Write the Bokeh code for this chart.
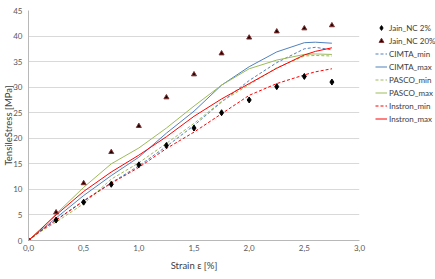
from bokeh.plotting import figure
from bokeh.layouts import row
from bokeh.models import Legend, LegendItem, FixedTicker, Range1d, CustomJSTickFormatter
from bokeh.embed import file_html
from bokeh.resources import INLINE

# Jain_NC reference points
strain_pts = [0.0, 0.25, 0.5, 0.75, 1.0, 1.25, 1.5, 1.75, 2.0, 2.25, 2.5, 2.75]
jain_2 = [0.0, 4.0, 7.5, 11.0, 14.8, 18.6, 22.0, 25.0, 27.5, 30.1, 32.1, 31.0]
jain_20 = [0.0, 5.5, 11.2, 17.3, 22.4, 28.0, 32.5, 36.6, 39.7, 40.9, 41.5, 42.1]

# measured curves
strain_curve = [0.0, 0.1, 0.25, 0.5, 0.75, 1.0, 1.25, 1.5, 1.75, 2.0, 2.25, 2.5, 2.6, 2.75]
cimta_min = [0.0, 1.7, 4.0, 7.8, 11.3, 14.6, 18.4, 22.5, 27.1, 31.3, 34.8, 37.5, 37.8, 37.3]
cimta_max = [0.0, 1.8, 4.4, 8.8, 12.7, 16.3, 21.0, 25.3, 30.4, 34.0, 36.9, 38.7, 38.8, 38.6]
pasco_min = [0.0, 1.6, 3.6, 7.2, 12.0, 15.2, 19.0, 22.9, 27.2, 30.5, 33.8, 36.1, 36.2, 36.1]
pasco_max = [0.0, 2.0, 5.2, 10.4, 15.0, 18.1, 22.0, 26.3, 30.4, 33.6, 35.3, 36.4, 36.5, 36.4]
instron_min = [0.0, 1.7, 4.0, 7.7, 11.2, 14.3, 18.0, 21.2, 24.8, 28.4, 30.7, 32.4, 33.0, 33.6]
instron_max = [0.0, 2.0, 5.0, 9.6, 13.4, 16.7, 20.3, 24.3, 27.7, 30.7, 33.7, 36.3, 37.0, 37.7]

series_labels = ["Jain_NC 2%", "Jain_NC 20%", "CIMTA_min", "CIMTA_max",
                 "PASCO_min", "PASCO_max", "Instron_min", "Instron_max"]

x_ticks = [0.0, 0.5, 1.0, 1.5, 2.0, 2.5, 3.0]
y_ticks = [0, 5, 10, 15, 20, 25, 30, 35, 40, 45]

FONT = "Lato"
BLUE = "#4F81BD"
GREEN = "#9BBB59"
RED = "#FF0000"
DASH = "3 2"

p = figure(width=366, height=279, output_backend="svg", toolbar_location=None,
           x_range=Range1d(0, 3), y_range=Range1d(0, 45),
           min_border_left=28, min_border_right=7, min_border_top=10, min_border_bottom=39)
p.outline_line_color = None
p.background_fill_color = "white"
p.border_fill_color = "white"

p.xgrid.visible = False
p.ygrid.grid_line_color = "#d9d9d9"
p.ygrid.grid_line_width = 1

p.xaxis.ticker = FixedTicker(ticks=x_ticks)
p.yaxis.ticker = FixedTicker(ticks=y_ticks)
p.xaxis.formatter = CustomJSTickFormatter(code="return tick.toFixed(1).replace('.', ',');")

for ax in (p.xaxis, p.yaxis):
    ax.axis_line_color = "#b8b8b8"
    ax.major_tick_line_color = None
    ax.minor_tick_line_color = None
    ax.major_tick_out = 0
    ax.major_tick_in = 0
    ax.minor_tick_out = 0
    ax.minor_tick_in = 0
    ax.major_label_text_font = FONT
    ax.major_label_text_font_size = "8px"
    ax.major_label_text_color = "#595959"
    ax.axis_label_text_font = FONT
    ax.axis_label_text_font_size = "9.5px"
    ax.axis_label_text_font_style = "normal"
    ax.axis_label_text_color = "#404040"

p.xaxis.axis_label = "Strain ε [%]"
p.yaxis.axis_label = "TensileStress [MPa]"
p.xaxis.major_label_standoff = 4
p.xaxis.axis_label_standoff = 6
p.yaxis.major_label_standoff = 6
p.yaxis.axis_label_standoff = -4

line_styles = [(BLUE, DASH), (BLUE, "solid"), (GREEN, DASH), (GREEN, "solid"), (RED, DASH), (RED, "solid")]
line_data = [cimta_min, cimta_max, pasco_min, pasco_max, instron_min, instron_max]

for (col, dash), ys in zip(line_styles, line_data):
    p.line(strain_curve, ys, line_color=col, line_width=1, line_dash=dash)

p.scatter(strain_pts, jain_2, marker="diamond", size=6, fill_color="black", line_color="black")
p.scatter(strain_pts, jain_20, marker="triangle", size=5, fill_color="#1a0000", line_color="#803030")

# legend panel: same series drawn out of view, only the legend shows
lg = figure(width=69, height=279, output_backend="svg", toolbar_location=None,
            x_range=Range1d(100, 101), y_range=Range1d(100, 101),
            min_border_left=0, min_border_right=0, min_border_top=10, min_border_bottom=39)
lg.axis.visible = False
lg.grid.visible = False
lg.outline_line_color = None
lg.border_fill_color = "white"

lr = [lg.scatter(strain_pts, jain_2, marker="diamond", size=6, fill_color="black", line_color="black"),
      lg.scatter(strain_pts, jain_20, marker="triangle", size=5, fill_color="#1a0000", line_color="#803030")]
for (col, dash), ys in zip(line_styles, line_data):
    lr.append(lg.line(strain_curve, ys, line_color=col, line_width=1, line_dash=dash))

legend = Legend(items=[LegendItem(label=lab, renderers=[r]) for lab, r in zip(series_labels, lr)],
                location=(9, 115))
legend.background_fill_alpha = 0
legend.border_line_color = None
legend.padding = 0
legend.margin = 0
legend.spacing = 0
legend.glyph_width = 12
legend.glyph_height = 13
legend.label_height = 13
legend.label_standoff = 2
legend.label_text_font = FONT
legend.label_text_font_size = "8px"
legend.label_text_color = "#404040"
lg.add_layout(legend, "center")

layout = row(p, lg, spacing=0)
open("out.html", "w").write(file_html(layout, INLINE))
